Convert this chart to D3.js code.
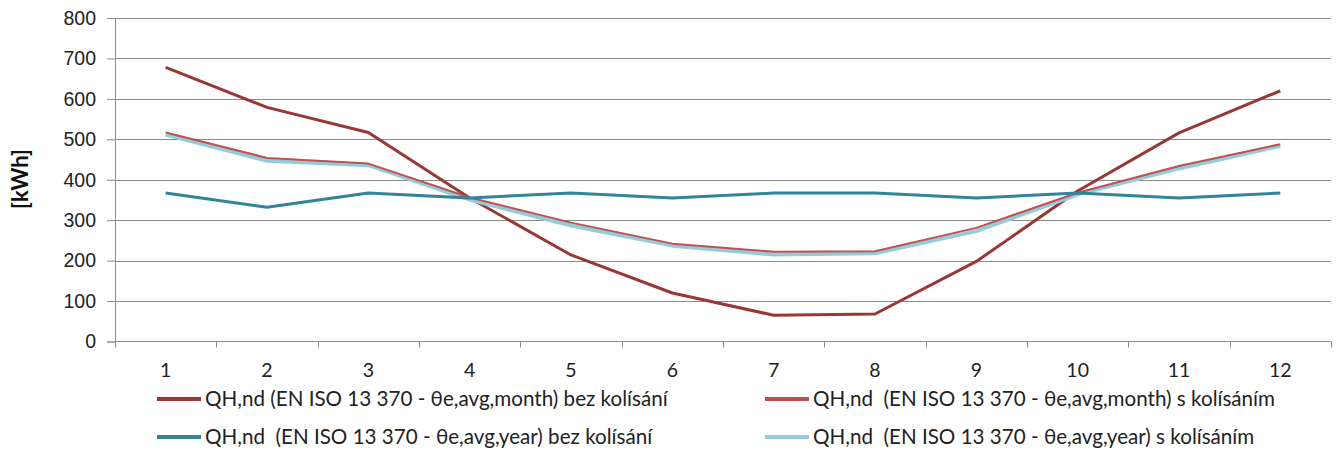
<!DOCTYPE html>
<html>
<head>
<meta charset="utf-8">
<script src="https://cdn.jsdelivr.net/npm/d3@7"></script>
<style>
  body { margin: 0; background: #fff; }
  svg { display: block; font-family: Lato, "Open Sans", sans-serif; }
  text { white-space: pre; }
</style>
</head>
<body>
<svg id="chart" width="1338" height="450"></svg>
<script>
var months = ["1", "2", "3", "4", "5", "6", "7", "8", "9", "10", "11", "12"];
var yTicks = [0, 100, 200, 300, 400, 500, 600, 700, 800];

var monthBez = [678, 579, 517, 355, 214, 120, 65, 68, 198, 372, 516, 620];
var monthS   = [517, 454, 440, 356, 294, 242, 222, 223, 281, 368, 434, 488];
var yearBez  = [367, 332, 367, 355, 367, 355, 367, 367, 355, 367, 355, 367];
var yearS    = [512, 447, 436, 351, 287, 237, 215, 218, 273, 364, 428, 484];

var seriesNames = [
  "QH,nd (EN ISO 13 370 - \u03b8e,avg,month) bez kol\u00eds\u00e1n\u00ed",
  "QH,nd  (EN ISO 13 370 - \u03b8e,avg,month) s kol\u00eds\u00e1n\u00edm",
  "QH,nd  (EN ISO 13 370 - \u03b8e,avg,year) bez kol\u00eds\u00e1n\u00ed",
  "QH,nd  (EN ISO 13 370 - \u03b8e,avg,year) s kol\u00eds\u00e1n\u00edm"
];
var seriesColors = ["#993735", "#c0504d", "#31849b", "#93cddd"];
var seriesWidths = [3, 2, 3, 4];

var series = [
  { name: seriesNames[0], values: monthBez, color: seriesColors[0], width: seriesWidths[0] },
  { name: seriesNames[1], values: monthS,   color: seriesColors[1], width: seriesWidths[1] },
  { name: seriesNames[2], values: yearBez,  color: seriesColors[2], width: seriesWidths[2] },
  { name: seriesNames[3], values: yearS,    color: seriesColors[3], width: seriesWidths[3] }
];

var margin = { top: 18, right: 7, bottom: 108.5, left: 115 };
var svg = d3.select("#chart");
var width = 1338 - margin.left - margin.right,
    height = 450 - margin.top - margin.bottom;

var g = svg.append("g").attr("transform", "translate(" + margin.left + "," + margin.top + ")");

var x = d3.scaleBand().domain(months).range([0, width]);
var y = d3.scaleLinear().domain([0, 800]).range([height, 0]);

var gridColor = "#8c8c8c";

// horizontal gridlines + y ticks
var yAxis = g.append("g")
  .call(d3.axisLeft(y).tickValues(yTicks).tickSize(8).tickPadding(11));
yAxis.select(".domain").attr("stroke", gridColor);
yAxis.selectAll(".tick line").attr("stroke", gridColor);
yAxis.selectAll(".tick text")
  .attr("font-size", 19.5).attr("fill", "#222");

g.append("g")
  .selectAll("line")
  .data(yTicks.filter(function (d) { return d > 0; }))
  .join("line")
  .attr("x1", 0).attr("x2", width)
  .attr("y1", function (d) { return Math.round(y(d)) + 0.5; })
  .attr("y2", function (d) { return Math.round(y(d)) + 0.5; })
  .attr("stroke", gridColor).attr("stroke-width", 1);

// x axis with ticks at band boundaries
var xg = g.append("g").attr("transform", "translate(0," + height + ")");
xg.append("line")
  .attr("x1", 0).attr("x2", width)
  .attr("y1", 0).attr("y2", 0)
  .attr("stroke", gridColor);
xg.selectAll("line.tk")
  .data(d3.range(months.length + 1))
  .join("line")
  .attr("class", "tk")
  .attr("x1", function (i) { return Math.round(i * x.step()) + 0.5; })
  .attr("x2", function (i) { return Math.round(i * x.step()) + 0.5; })
  .attr("y1", 0).attr("y2", 6)
  .attr("stroke", gridColor);
xg.selectAll("text")
  .data(months)
  .join("text")
  .attr("x", function (d) { return x(d) + x.bandwidth() / 2; })
  .attr("y", 35)
  .attr("text-anchor", "middle")
  .attr("font-size", 19.5)
  .attr("fill", "#222")
  .text(function (d) { return d; });

// y title
svg.append("text")
  .attr("transform", "translate(28,179) rotate(-90)")
  .attr("text-anchor", "middle")
  .attr("font-size", 22)
  .attr("font-weight", "bold")
  .attr("fill", "#111")
  .text("[kWh]");

// lines
var line = d3.line()
  .x(function (d, i) { return x(months[i]) + x.bandwidth() / 2; })
  .y(function (d) { return y(d); });

var drawOrder = [0, 3, 1, 2];
drawOrder.forEach(function (k) {
  var s = series[k];
  g.append("path")
    .datum(s.values)
    .attr("fill", "none")
    .attr("stroke", s.color)
    .attr("stroke-width", s.width)
    .attr("stroke-linejoin", "round")
    .attr("d", line);
});

// legend
var legendPos = [
  { x: 157, y: 399 },
  { x: 765, y: 399 },
  { x: 157, y: 437 },
  { x: 765, y: 437 }
];
var legend = svg.append("g");
series.forEach(function (s, i) {
  var p = legendPos[i];
  legend.append("line")
    .attr("x1", p.x).attr("x2", p.x + 44)
    .attr("y1", p.y).attr("y2", p.y)
    .attr("stroke", s.color).attr("stroke-width", 4);
  legend.append("text")
    .attr("class", "lg")
    .attr("x", p.x + 48)
    .attr("y", p.y)
    .attr("dy", "0.35em")
    .attr("font-size", 19)
    .attr("fill", "#222")
    .text(s.name);
});

// fit legend font so first entry spans ~463px like the reference
var w0 = legend.select("text.lg").node().getComputedTextLength();
var fs = 19 * 463 / w0;
legend.selectAll("text.lg").attr("font-size", fs);
</script>
</body>
</html>
